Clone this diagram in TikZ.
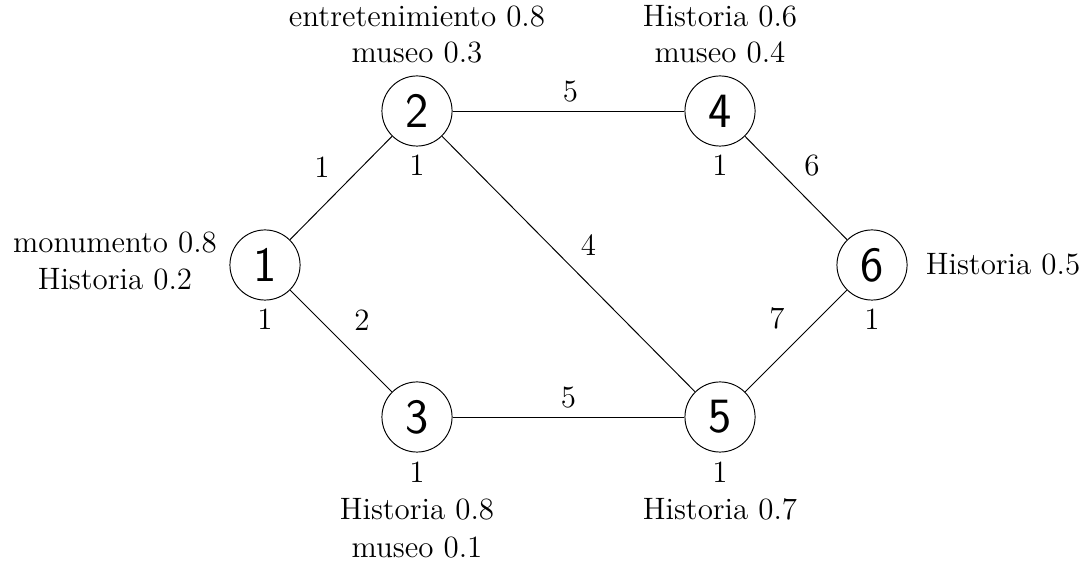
\documentclass[tikz,border=0pt]{standalone}
\usetikzlibrary{positioning}
\begin{document}
\begin{tikzpicture}[x=0.365pt,y=-0.365pt,
  line width=0.35pt,
  vertex/.style={circle,draw,minimum size=25.6pt,inner sep=0pt,font=\sffamily\fontsize{18}{20}\selectfont},
  txt/.style={align=center,inner sep=0pt,anchor=base,font=\fontsize{11.3}{13.4}\selectfont},
  wt/.style={inner sep=0pt,anchor=center,font=\fontsize{11.3}{13.4}\selectfont}]
\useasboundingbox (0,0) rectangle (1080,564);

% vertices
\node[vertex] (n1) at (265,265) {1};
\node[vertex] (n2) at (417,111) {2};
\node[vertex] (n3) at (417,417) {3};
\node[vertex] (n4) at (720,111) {4};
\node[vertex] (n5) at (720,417) {5};
\node[vertex] (n6) at (872,265) {6};

% edges with weights
\draw (n1) -- node[wt,shift={(-19,-21)}] (w12) {1} (n2);
\draw (n1) -- node[wt,shift={(21,-21)}] (w13) {2} (n3);
\draw (n2) -- node[wt,shift={(2,-19)}] (w24) {5} (n4);
\draw (n2) -- node[wt,shift={(20,-19)}] (w25) {4} (n5);
\draw (n3) -- node[wt,shift={(0,-19)}] (w35) {5} (n5);
\draw (n4) -- node[wt,shift={(16,-22)}] (w46) {6} (n6);
\draw (n5) -- node[wt,shift={(-19,-23)}] (w56) {7} (n6);

% vertex weights
\node[txt] (c1) at (265,330) {1};
\node[txt] (c2) at (417,176) {1};
\node[txt] (c3) at (417,482) {1};
\node[txt] (c4) at (720,176) {1};
\node[txt] (c5) at (720,482) {1};
\node[txt] (c6) at (872,330) {1};

% vertex topics
\node[txt] (t1a) at (115,253) {monumento 0.8};
\node[txt] (t1b) at (115,290) {Historia 0.2};
\node[txt] (t2a) at (417,27) {entretenimiento 0.8};
\node[txt] (t2b) at (417,63) {museo 0.3};
\node[txt] (t3a) at (417,520) {Historia 0.8};
\node[txt] (t3b) at (417,557) {museo 0.1};
\node[txt] (t4a) at (720,27) {Historia 0.6};
\node[txt] (t4b) at (720,63) {museo 0.4};
\node[txt] (t5) at (720,520) {Historia 0.7};
\node[txt] (t6) at (1003,275) {Historia 0.5};
\end{tikzpicture}
\end{document}
